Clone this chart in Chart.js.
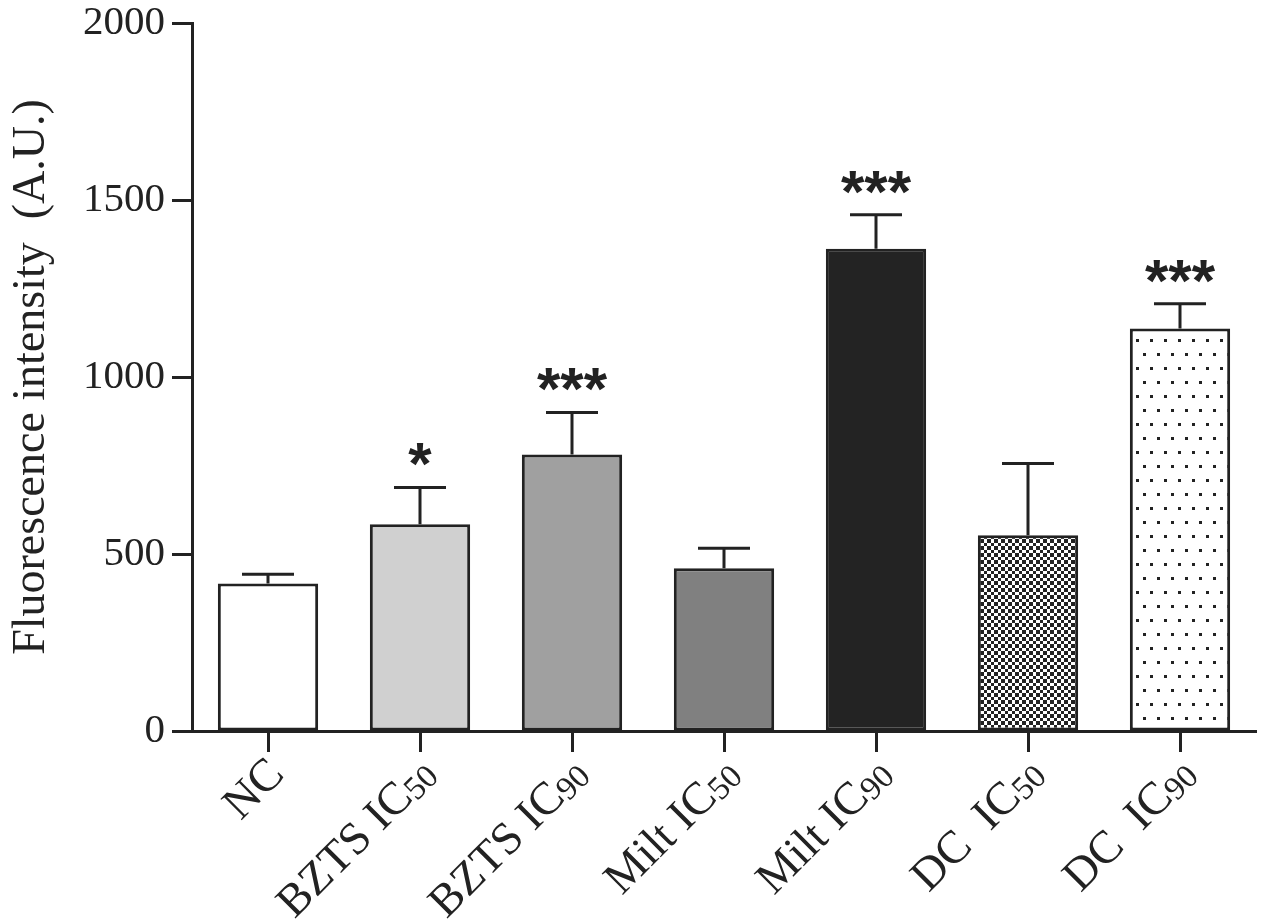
<!DOCTYPE html>
<html>
<head>
<meta charset="utf-8">
<title>Fluorescence intensity</title>
<script src="https://cdn.jsdelivr.net/npm/chart.js"></script>
<style>
  html, body { margin: 0; padding: 0; background: #fff; }
  canvas { display: block; }
</style>
</head>
<body>
<canvas id="chart" width="1267" height="922"></canvas>
<script>
// data
const categories = ['NC', 'BZTS IC50', 'BZTS IC90', 'Milt IC50', 'Milt IC90', 'DC  IC50', 'DC  IC90'];
const means = [417, 584, 781, 460, 1362, 553, 1137];
const errors = [26, 104, 119, 56, 96, 203, 70];
const stars = ['', '*', '***', '', '***', '', '***'];
const yTicks = [0, 500, 1000, 1500, 2000];

const ink = '#222222';

// fill patterns for the DC bars
function checkerPattern() {
  const c = document.createElement('canvas');
  c.width = 14; c.height = 14;
  const g = c.getContext('2d');
  g.fillStyle = '#fff';
  g.fillRect(0, 0, 14, 14);
  g.fillStyle = ink;
  const edges = [0, 4, 7, 11, 14];
  for (let i = 0; i < 4; i++) {
    for (let j = 0; j < 4; j++) {
      if ((i + j) % 2 === 0) {
        g.fillRect(edges[i], edges[j], edges[i + 1] - edges[i], edges[j + 1] - edges[j]);
      }
    }
  }
  return g.createPattern(c, 'repeat');
}

function dotPattern() {
  const c = document.createElement('canvas');
  c.width = 14; c.height = 28;
  const g = c.getContext('2d');
  g.fillStyle = '#fff';
  g.fillRect(0, 0, 14, 28);
  g.fillStyle = ink;
  g.fillRect(2, 3, 3, 3);
  g.fillRect(9, 17, 3, 3);
  return g.createPattern(c, 'repeat');
}

const fills = ['#ffffff', '#d0d0d0', '#a0a0a0', '#808080', '#232323', checkerPattern(), dotPattern()];

// error bars, significance stars and the rotated category labels with subscripts
const annotations = {
  id: 'annotations',
  afterDatasetsDraw(chart) {
    const ctx = chart.ctx;
    const x = chart.scales.x;
    const y = chart.scales.y;
    ctx.save();
    ctx.strokeStyle = ink;
    ctx.lineWidth = 3;
    means.forEach((m, i) => {
      const cx = x.getPixelForValue(i);
      const top = y.getPixelForValue(m);
      const cap = y.getPixelForValue(m + errors[i]);
      ctx.beginPath();
      ctx.moveTo(cx, top);
      ctx.lineTo(cx, cap);
      ctx.moveTo(cx - 26, cap);
      ctx.lineTo(cx + 26, cap);
      ctx.stroke();

      if (stars[i]) {
        ctx.font = 'bold 60px "Liberation Sans", Arial, sans-serif';
        ctx.fillStyle = ink;
        ctx.textAlign = 'center';
        ctx.textBaseline = 'alphabetic';
        const tm = ctx.measureText(stars[i]);
        ctx.fillText(stars[i], cx, cap - 21 - tm.actualBoundingBoxDescent);
      }
    });
    ctx.restore();
  },
  afterDraw(chart) {
    const ctx = chart.ctx;
    const x = chart.scales.x;
    const base = chart.scales.y.getPixelForValue(0);
    ctx.save();
    ctx.fillStyle = ink;
    ctx.textBaseline = 'alphabetic';
    ctx.textAlign = 'right';
    categories.forEach((label, i) => {
      const m = label.match(/^(.*?)(\d+)$/);
      const main = m ? m[1] : label;
      const sub = m ? m[2] : '';
      ctx.save();
      ctx.translate(x.getPixelForValue(i) + 18, base + 45);
      ctx.rotate(-Math.PI / 4);
      ctx.font = '33px "Liberation Serif", "Times New Roman", serif';
      const subW = sub ? ctx.measureText(sub).width : 0;
      if (sub) ctx.fillText(sub, 0, 3);
      ctx.font = '46px "Liberation Serif", "Times New Roman", serif';
      ctx.fillText(main, -subW, 0);
      ctx.restore();
    });
    ctx.restore();
  }
};

new Chart(document.getElementById('chart'), {
  type: 'bar',
  data: {
    labels: categories,
    datasets: [{
      data: means,
      backgroundColor: fills,
      borderColor: ink,
      borderWidth: 3,
      borderSkipped: false,
      categoryPercentage: 1,
      barPercentage: 0.66
    }]
  },
  options: {
    responsive: false,
    animation: false,
    devicePixelRatio: 1,
    layout: { padding: { top: 0, right: 11, left: 0, bottom: 0 } },
    plugins: {
      legend: { display: false },
      tooltip: { enabled: false }
    },
    scales: {
      x: {
        z: 1,
        grid: {
          offset: false,
          drawOnChartArea: false,
          drawTicks: true,
          tickLength: 21,
          tickWidth: 3,
          tickColor: ink
        },
        border: { display: true, color: ink, width: 3 },
        ticks: { display: false },
        afterFit(scale) { scale.height = 191; }
      },
      y: {
        z: 1,
        min: 0,
        max: 2000,
        afterBuildTicks(scale) { scale.ticks = yTicks.map(v => ({ value: v })); },
        grid: {
          drawOnChartArea: false,
          drawTicks: true,
          tickLength: 20,
          tickWidth: 3,
          tickColor: ink
        },
        border: { display: true, color: ink, width: 3 },
        ticks: {
          color: ink,
          padding: 7,
          callback: v => String(v),
          font: { family: '"Liberation Serif", "Times New Roman", serif', size: 41, lineHeight: 1.1 }
        },
        title: {
          display: true,
          text: 'Fluorescence intensity  (A.U.)',
          color: ink,
          padding: { top: 4, bottom: 0 },
          font: { family: '"Liberation Serif", "Times New Roman", serif', size: 46, lineHeight: 1.2 }
        },
        afterFit(scale) {
          scale.width = 192;
          scale.paddingTop = 23;
          scale.paddingBottom = 0;
        }
      }
    }
  },
  plugins: [annotations]
});
</script>
</body>
</html>
